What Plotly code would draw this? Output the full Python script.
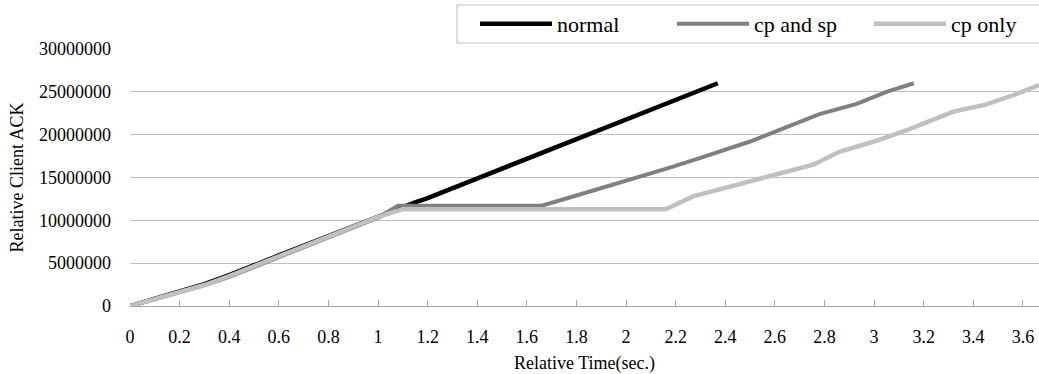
import plotly.graph_objects as go

# Relative time (sec.) and relative client ACK values
normal_t = [0, 0.05, 0.1, 0.2, 0.3, 0.4, 0.6, 0.8, 1.0, 1.1, 1.15, 1.2, 1.4, 1.6, 1.8, 2.0, 2.2, 2.37]
normal_v = [0, 400000, 850000, 1700000, 2550000, 3600000, 5900000, 8200000, 10500000, 11600000,
            12100000, 12600000, 14900000, 17200000, 19500000, 21800000, 24100000, 26000000]

cpsp_t = [0, 0.1, 0.2, 0.3, 0.4, 0.6, 0.8, 1.0, 1.08, 1.66, 1.8, 2.0, 2.17, 2.3, 2.5, 2.65, 2.78, 2.93, 3.05, 3.16]
cpsp_v = [0, 800000, 1600000, 2400000, 3400000, 5700000, 8000000, 10300000, 11700000, 11700000,
          12900000, 14600000, 16100000, 17300000, 19200000, 20900000, 22400000, 23600000, 25000000, 26000000]

cponly_t = [0, 0.1, 0.2, 0.3, 0.4, 0.6, 0.8, 1.0, 1.1, 2.16, 2.27, 2.49, 2.6, 2.755, 2.86, 3.0, 3.13, 3.32, 3.45, 3.56, 3.665]
cponly_v = [0, 820000, 1650000, 2450000, 3500000, 5800000, 8100000, 10400000, 11300000, 11300000,
            12800000, 14500000, 15300000, 16500000, 18000000, 19200000, 20500000, 22700000, 23500000, 24600000, 25800000]

x_ticks = [0, 0.2, 0.4, 0.6, 0.8, 1, 1.2, 1.4, 1.6, 1.8, 2, 2.2, 2.4, 2.6, 2.8, 3, 3.2, 3.4, 3.6]
y_ticks = [0, 5000000, 10000000, 15000000, 20000000, 25000000, 30000000]

FONT = "Liberation Serif"

fig = go.Figure()
fig.add_trace(go.Scatter(x=normal_t, y=normal_v, mode="lines", name="normal",
                         line=dict(color="#000000", width=4.5)))
fig.add_trace(go.Scatter(x=cpsp_t, y=cpsp_v, mode="lines", name="cp and sp",
                         line=dict(color="#808080", width=4)))
fig.add_trace(go.Scatter(x=cponly_t, y=cponly_v, mode="lines", name="cp only",
                         line=dict(color="#c0c0c0", width=4.5)))

W, H = 1039, 374
L, R, T, B = 130, 0, 49, 68
pw, ph = W - L - R, H - T - B

# legend frame (box drawn as a shape so it can match the reference extent)
fig.add_shape(type="rect", xref="paper", yref="paper",
              x0=(457 - L) / pw, x1=(W + 5 - L) / pw,
              y0=(H - B - 43) / ph, y1=(H - B - 5) / ph,
              line=dict(color="#c0c0c0", width=1), fillcolor="white", layer="below")

fig.update_layout(
    width=W, height=H,
    margin=dict(l=L, r=R, t=T, b=B),
    paper_bgcolor="white", plot_bgcolor="white",
    font=dict(family=FONT, color="black", size=18),
    legend=dict(orientation="h", xref="container", yref="container",
                x=475 / W, xanchor="left", y=1 - 3 / H, yanchor="top",
                borderwidth=0, bgcolor="rgba(0,0,0,0)",
                font=dict(family=FONT, size=22), itemwidth=72,
                entrywidth=110, tracegroupgap=0),
    xaxis=dict(range=[0, 3.665], tickvals=x_ticks, ticktext=[f"{v:g}" for v in x_ticks],
               showgrid=False, zeroline=False, showline=True, linecolor="#a6a6a6", linewidth=1,
               ticks="inside", ticklen=6, tickcolor="#a6a6a6", automargin=False,
               ticklabelstandoff=14, tickfont=dict(size=18),
               title=dict(text="Relative Time(sec.)", font=dict(size=18), standoff=11)),
    yaxis=dict(range=[0, 30000000], tickvals=y_ticks, ticktext=[str(v) for v in y_ticks],
               showgrid=True, gridcolor="#c0c0c0", gridwidth=1, zeroline=False, showline=False,
               ticks="", ticklabelstandoff=18, tickfont=dict(size=18), automargin=False,
               title=dict(text="Relative Client ACK", font=dict(size=18), standoff=10)),
)

fig.write_html("out.html", config={"displayModeBar": False},
               post_script="document.body.style.margin='0px';document.body.style.overflow='hidden';")
